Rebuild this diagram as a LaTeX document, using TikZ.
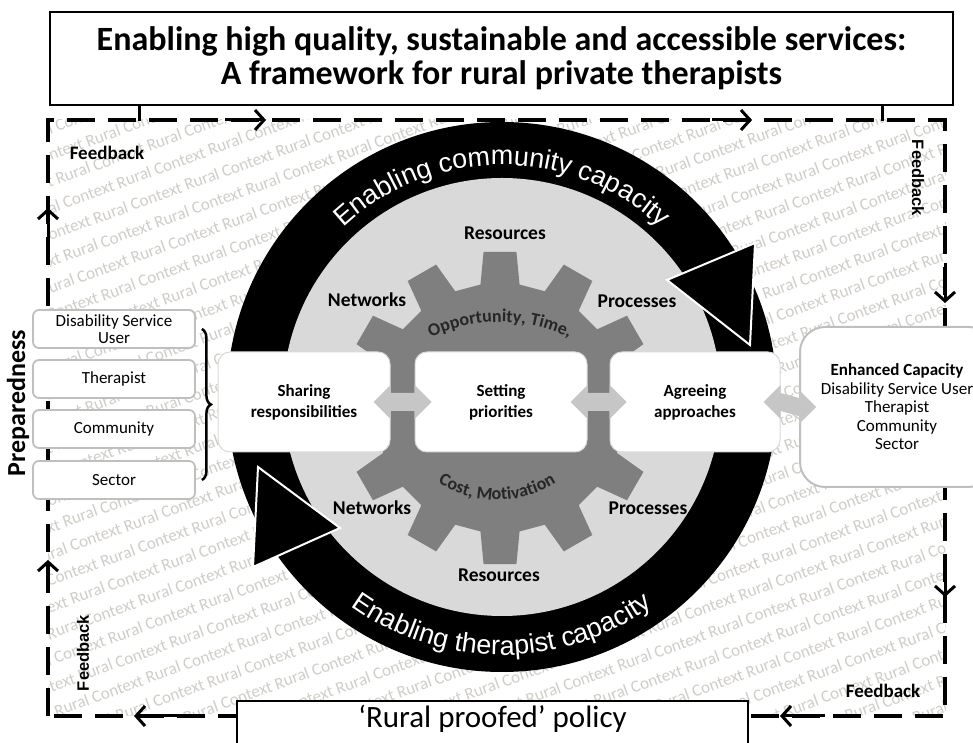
\documentclass[tikz,border=0pt]{standalone}
\usepackage{fontspec}
\setmainfont{Carlito}
\newfontfamily\arialfont{Liberation Sans}
\usetikzlibrary{arrows.meta, calc, decorations.text, decorations.pathreplacing}

\definecolor{diskgray}{HTML}{D9D9D9}
\definecolor{geargray}{HTML}{7F7F7F}
\definecolor{boxline}{HTML}{BFBFBF}
\definecolor{bgword}{HTML}{D0CDC6}
\definecolor{dblgray}{HTML}{C6C6C6}

\newcommand{\ruralrow}{Rural Context Rural Context Rural Context Rural Context Rural Context Rural Context Rural Context Rural Context Rural Context Rural Context Rural Context Rural Context Rural Context Rural Context}

% light gray two way arrow between two boxes
\newcommand{\twoway}[2]{%
  \coordinate (tl) at ($(#1.east)+(-17,0)$);
  \coordinate (tr) at ($(#2.west)+(17,0)$);
  \fill[dblgray] (tl) -- ++(17,17) -- ++(0,-8) -- ($(tr)+(-17,9)$) -- ++(0,8) -- (tr)
    -- ++(-17,-17) -- ++(0,8) -- ($(tl)+(17,-9)$) -- ++(0,-8) -- cycle;
}

\begin{document}
\begin{tikzpicture}[x=1pt, y=1pt,
    frameline/.style={line width=4pt, dash pattern=on 28pt off 13pt},
    feedarrow/.style={line width=3pt, -{Straight Barb[length=9pt, width=20pt]}},
    titlebox/.style={draw, line width=1.2pt, fill=white, minimum width=903pt, minimum height=93pt,
      align=center, font=\bfseries\fontsize{34}{34}\selectfont},
    stackbox/.style={draw=boxline, line width=1.8pt, fill=white, rounded corners=6pt,
      minimum width=162pt, minimum height=38pt, align=center, font=\fontsize{17}{17.5}\selectfont},
    stagebox/.style={draw=boxline!60, line width=1pt, fill=white, rounded corners=12pt,
      minimum width=172pt, minimum height=100pt, align=center, font=\bfseries\fontsize{17}{21}\selectfont},
    ringlabel/.style={font=\bfseries\fontsize{19.5}{19.5}\selectfont},
    feedlabel/.style={font=\bfseries\fontsize{19}{19}\selectfont},
    sidefeed/.style={font=\arialfont\bfseries\fontsize{16.5}{16.5}\selectfont},
    ringhead/.style={fill=black, draw=white, line width=2pt, line join=miter}
  ]
  \useasboundingbox (0,0) rectangle (973,743);

  % rural context backdrop
  \begin{scope}
    \clip (48,27) rectangle (945,623);
    \foreach \k in {-19,...,19}
      \node[text=bgword, font=\fontsize{17}{17}\selectfont, rotate=20, inner sep=0pt]
        at ({496-8.5*\k+0.94*mod(41*\k+999,104)}, {325+23.5*\k+0.342*mod(41*\k+999,104)}) {\ruralrow};
  \end{scope}

  \draw[frameline] (48,27) rectangle (945,623);

  \node[titlebox] (title) at (501.5,684.5) {Enabling high quality, sustainable and accessible services:\\A framework for rural private therapists};
  \draw[line width=3pt] ($(title.south west)+(90,0)$) -- ++(0,-15);
  \draw[line width=3pt] ($(title.south east)+(-71,0)$) -- ++(0,-15);

  % arrows on the feedback loop
  \draw[feedarrow] (225,623) -- (266,623);
  \draw[feedarrow] (712,623) -- (752,623);
  \draw[feedarrow] (945,480) -- (945,440);
  \draw[feedarrow] (945,172) -- (945,146);
  \draw[feedarrow] (180,27) -- (134,27);
  \draw[feedarrow] (825,27) -- (780,27);
  \draw[feedarrow] (48,495) -- (48,535);
  \draw[feedarrow] (48,150) -- (48,183);

  % capacity ring
  \coordinate (ringc) at (502,346);
  \fill[black] (ringc) circle (275);
  \fill[diskgray] (ringc) circle (219);
  \path[decorate, decoration={text along path, text align=center,
      text={|\arialfont\fontsize{27}{27}\selectfont\color{white}|Enabling community capacity}}]
    ($(ringc)+(160:232)$) arc[start angle=160, end angle=20, radius=232];
  \path[decorate, decoration={text along path, text align=center,
      text={|\arialfont\fontsize{27}{27}\selectfont\color{white}|Enabling therapist capacity}}]
    ($(ringc)+(-160:258)$) arc[start angle=-160, end angle=-20, radius=258];

  % gear
  \begin{scope}[shift={(500,335)}]
    \fill[geargray] (-21:125) \foreach \a in {0,30,...,330} {
      -- ({\a-9}:125) -- ({\a-6}:157) -- ({\a+6}:157) -- ({\a+9}:125) } -- cycle;
  \end{scope}
  \path[decorate, decoration={text along path, text align=center,
      text={|\bfseries\fontsize{18}{18}\selectfont\color{black!85}|Opportunity, Time,}}]
    (500,261) ++(125:160) arc[start angle=125, end angle=55, radius=160];
  \path[decorate, decoration={text along path, text align=center,
      text={|\bfseries\fontsize{18}{18}\selectfont\color{black!85}|Cost, Motivation}}]
    (497,353) ++(-150:110) arc[start angle=-150, end angle=-30, radius=110];

  \filldraw[ringhead] (667,463) -- (755,500) -- (750,398) -- cycle;
  \filldraw[ringhead] (258,276) -- (340,215) -- (253,176) -- cycle;

  \node[ringlabel] (restop) at (505,510) {Resources};
  \node[ringlabel] (netup) at (367,443) {Networks};
  \node[ringlabel] (procup) at (637,442) {Processes};
  \node[ringlabel] (netdown) at (372,235) {Networks};
  \node[ringlabel] (procdown) at (648,235) {Processes};
  \node[ringlabel] (resbot) at (499,168) {Resources};

  % stages
  \node[stagebox] (share) at (304,341) {Sharing\\responsibilities};
  \node[stagebox] (setp) at (501,341) {Setting\\priorities};
  \node[stagebox, minimum width=170pt] (agree) at (695,341) {Agreeing\\approaches};
  \node[draw=boxline, line width=2pt, fill=white, rounded corners=25pt, minimum width=194pt,
    minimum height=160pt, align=center, font=\fontsize{17}{18.5}\selectfont] (enh) at (897,336)
    {\textbf{Enhanced Capacity}\\Disability Service User\\Therapist\\Community\\Sector};
  \twoway{share}{setp}
  \twoway{setp}{agree}
  \twoway{agree}{enh}

  % preparedness
  \node[stackbox] (dsu) at (114,414) {Disability Service\\User};
  \node[stackbox] (ther) at (114,364) {Therapist};
  \node[stackbox] (comm) at (114,314) {Community};
  \node[stackbox] (sect) at (114,263) {Sector};
  \draw[line width=2.5pt, decorate, decoration={brace, amplitude=9pt}]
    ([xshift=6pt]dsu.east) -- ([xshift=6pt]sect.east);
  \node[rotate=90, font=\bfseries\fontsize{26}{26}\selectfont] (prep) at (18,340) {Preparedness};

  \node[feedlabel] (fbtl) at (107,590) {Feedback};
  \node[sidefeed, rotate=-90] (fbtr) at (918,565) {Feedback};
  \node[sidefeed, rotate=90] (fbbl) at (83,90) {Feedback};
  \node[feedlabel] (fbbr) at (883,52) {Feedback};

  \node[draw, line width=1.2pt, fill=white, minimum width=511pt, text height=27pt, text depth=23pt,
    inner ysep=0pt, anchor=base, font=\fontsize{31}{31}\selectfont] (policy) at (492.5,15) {‘Rural proofed’ policy};
\end{tikzpicture}
\end{document}
